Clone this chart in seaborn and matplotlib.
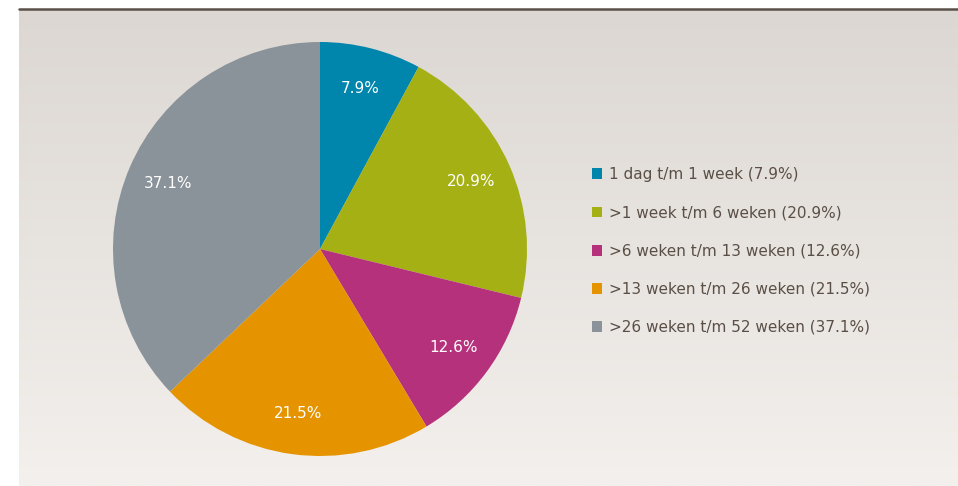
import numpy as np
import matplotlib
matplotlib.use("Agg")
import matplotlib.pyplot as plt
import seaborn as sns

# Duration categories and their shares (%)
categories = [
    "1 dag t/m 1 week",
    ">1 week t/m 6 weken",
    ">6 weken t/m 13 weken",
    ">13 weken t/m 26 weken",
    ">26 weken t/m 52 weken",
]
shares = [7.9, 20.9, 12.6, 21.5, 37.1]
slice_colors = ["#0085ad", "#a5b014", "#b5317b", "#e59400", "#8a9399"]

sns.set_style("white")
plt.rcParams["font.family"] = ["DejaVu Sans"]

W, H = 958, 486
fig = plt.figure(figsize=(W / 100, H / 100), dpi=100, facecolor="white")

# Warm grey gradient panel with a dark rule along its top
bg = fig.add_axes([19 / W, 0, 1 - 19 / W, (H - 10) / H])
grad = np.linspace(0, 1, 256).reshape(-1, 1)
top = np.array([220, 215, 210]) / 255
bottom = np.array([243, 240, 237]) / 255
img = top + (bottom - top) * grad[..., None]
bg.imshow(img, aspect="auto", extent=[0, 1, 0, 1], origin="upper")
bg.set_axis_off()
fig.add_artist(plt.Line2D([19 / W, 1], [(H - 9.5) / H] * 2, color="#5a5048",
                          lw=1.8, transform=fig.transFigure))

# Pie
cx, cy, r = 320, 249, 207
ax = fig.add_axes([(cx - r) / W, (H - cy - r) / H, 2 * r / W, 2 * r / H])
palette = sns.color_palette(slice_colors)
wedges, texts, autotexts = ax.pie(
    shares,
    colors=palette,
    startangle=90,
    counterclock=False,
    radius=1,
    autopct=lambda p: f"{p:.1f}%",
    pctdistance=0.8,
    wedgeprops=dict(linewidth=0),
    textprops=dict(color="white", fontsize=11),
)
ax.set_xlim(-1, 1)
ax.set_ylim(-1, 1)
ax.set_axis_off()

legend_labels = [f"{c} ({s:.1f}%)" for c, s in zip(categories, shares)]
fig.legend(
    wedges,
    legend_labels,
    loc="center left",
    bbox_to_anchor=(578 / W, (H - 251) / H),
    frameon=False,
    fontsize=11,
    labelcolor="#5a4f46",
    handlelength=0.7,
    handleheight=0.7,
    handletextpad=0.45,
    labelspacing=1.52,
)

fig.savefig("out.png", dpi=100, facecolor="white")
